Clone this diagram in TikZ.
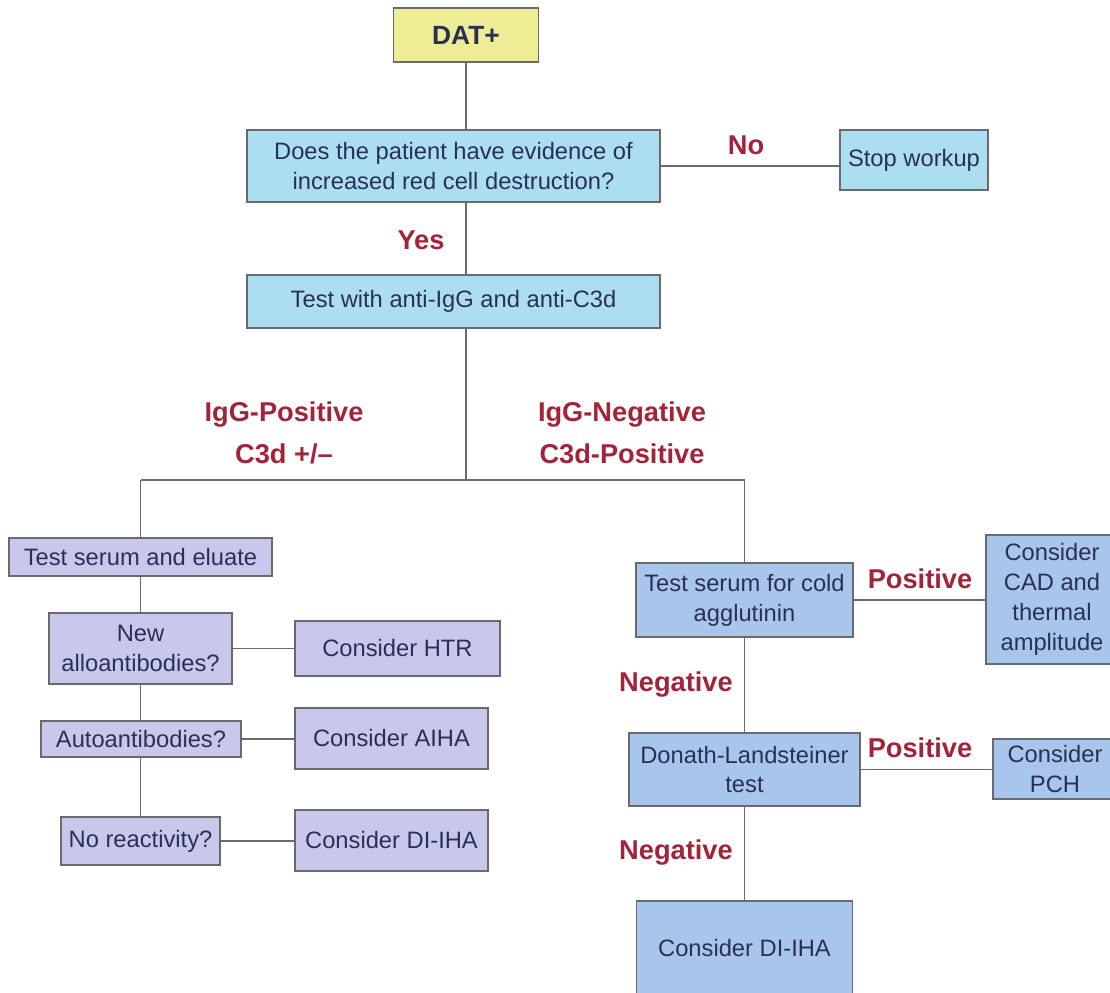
\documentclass[tikz,border=0pt]{standalone}
\usepackage{fontspec}
\setmainfont{Liberation Sans}
\usetikzlibrary{positioning}

\definecolor{inkblue}{RGB}{42,48,84}
\definecolor{labred}{RGB}{163,36,56}
\definecolor{linegray}{RGB}{105,105,110}
\definecolor{datyellow}{RGB}{238,237,150}
\definecolor{qcyan}{RGB}{172,222,241}
\definecolor{leftlav}{RGB}{200,200,236}
\definecolor{rightblue}{RGB}{168,198,236}

\begin{document}
\begin{tikzpicture}[
  x=0.02cm, y=-0.02cm,
  box/.style={draw=linegray, line width=1pt, align=center, inner sep=2pt,
    text=inkblue, font=\fontsize{13.5}{17}\selectfont},
  startbox/.style={box, fill=datyellow, font=\fontsize{15}{18}\selectfont\bfseries},
  qbox/.style={box, fill=qcyan},
  lbox/.style={box, fill=leftlav},
  rbox/.style={box, fill=rightblue},
  lab/.style={align=center, text=labred, font=\fontsize{15.5}{24}\selectfont\bfseries},
  link/.style={draw=linegray, line width=1.1pt}
]
\useasboundingbox (0,0) rectangle (1110,992);
\clip (0,0) rectangle (1110,992);
\fill[white] (0,0) rectangle (1110,992);

% top part
\node[startbox, minimum width=2.9cm, minimum height=1.08cm] (dat) at (466,35) {DAT+};
\node[qbox, minimum width=8.26cm, minimum height=1.44cm] (ques) at (453.5,166)
  {Does the patient have evidence of\\increased red cell destruction?};
\node[qbox, minimum width=2.96cm, minimum height=1.2cm] (stop) at (914,160) {Stop workup};
\node[qbox, minimum width=8.26cm, minimum height=1.06cm] (anti) at (453.5,301.5)
  {Test with anti-IgG and anti-C3d};
\coordinate (split) at (466,480);
\coordinate (splitL) at (140.5,480);
\coordinate (splitR) at (744.5,480);

% left branch
\node[lbox, minimum width=5.26cm, minimum height=0.76cm] (serum) at (140.5,557) {Test serum and eluate};
\node[lbox, minimum width=3.66cm, minimum height=1.42cm] (allo) at (140.5,648.5) {New\\alloantibodies?};
\node[lbox, minimum width=4.1cm, minimum height=1.1cm] (htr) at (397.5,648.5) {Consider HTR};
\node[lbox, minimum width=4.0cm, minimum height=0.72cm] (auto) at (141,739) {Autoantibodies?};
\node[lbox, minimum width=3.86cm, minimum height=1.22cm] (aiha) at (391.5,738.5) {Consider AIHA};
\node[lbox, minimum width=3.18cm, minimum height=0.96cm] (noreact) at (140.5,841) {No reactivity?};
\node[lbox, minimum width=3.86cm, minimum height=1.22cm] (dihaL) at (391.5,840.5) {Consider DI-IHA};

% right branch
\node[rbox, minimum width=4.34cm, minimum height=1.48cm] (cold) at (744.5,600)
  {Test serum for cold\\agglutinin};
\node[rbox, minimum width=2.64cm, minimum height=2.58cm] (cad) at (1052,599.5)
  {Consider\\CAD and\\thermal\\amplitude};
\node[rbox, minimum width=4.62cm, minimum height=1.46cm] (dl) at (744.5,769.5)
  {Donath-Landsteiner\\test};
\node[rbox, minimum width=2.48cm, minimum height=1.2cm] (pch) at (1055,769) {Consider\\PCH};
\node[rbox, minimum width=4.32cm, minimum height=1.88cm] (dihaR) at (744.5,948) {Consider DI-IHA};

% connectors
\draw[link] (dat.south) -- (dat.south |- ques.north);
\draw[link] (ques.east) -- (ques.east -| stop.west);
\draw[link] (dat.south |- ques.south) -- (dat.south |- anti.north);
\draw[link] (dat.south |- anti.south) -- (split);
\draw[link] (splitL) -- (splitR);
\draw[link] (splitL) -- (serum.north);
\draw[link] (serum.south) -- (serum.south |- allo.north);
\draw[link] (allo.south) -- (allo.south |- auto.north);
\draw[link] (allo.south |- auto.south) -- (allo.south |- noreact.north);
\draw[link] (allo.east) -- (allo.east -| htr.west);
\draw[link] (auto.east) -- (auto.east -| aiha.west);
\draw[link] (noreact.east) -- (noreact.east -| dihaL.west);
\draw[link] (splitR) -- (cold.north);
\draw[link] (cold.east) -- (cold.east -| cad.west);
\draw[link] (cold.south) -- (dl.north);
\draw[link] (dl.east) -- (dl.east -| pch.west);
\draw[link] (dl.south) -- (dihaR.north);

% branch labels
\node[lab] (no) at (746,145) {No};
\node[lab] (yes) at (421,240) {Yes};
\node[lab] (igpos) at (284,433) {IgG-Positive\\C3d +/--};
\node[lab] (igneg) at (622,433) {IgG-Negative\\C3d-Positive};
\node[lab] (pos1) at (920,579) {Positive};
\node[lab] (pos2) at (920,748) {Positive};
\node[lab] (neg1) at (676,685) {Negative};
\node[lab] (neg2) at (676,853) {Negative};
\end{tikzpicture}
\end{document}
